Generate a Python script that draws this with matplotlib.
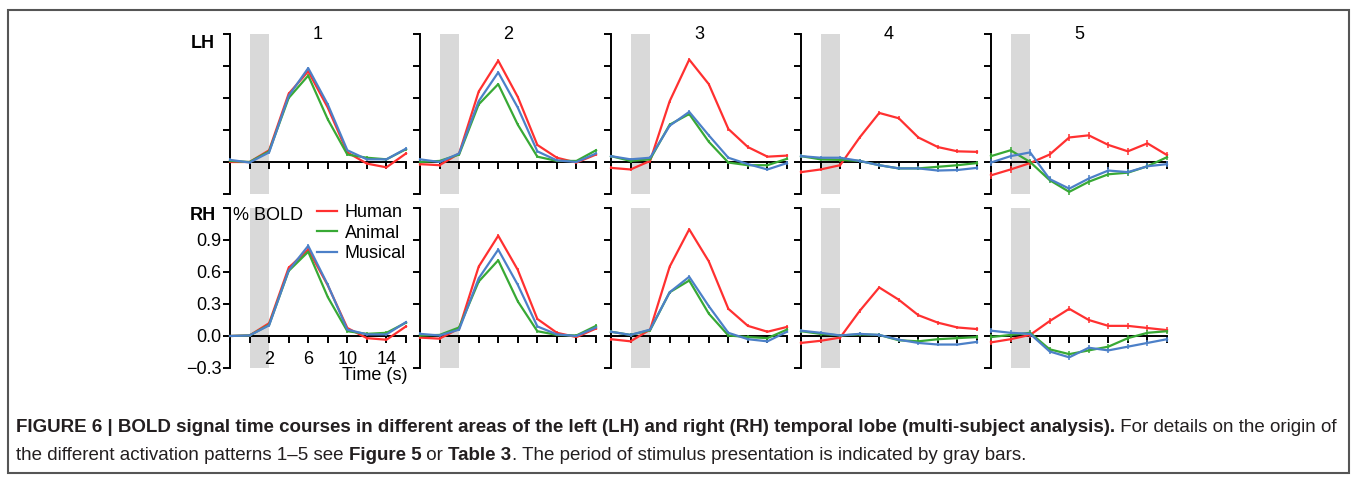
import matplotlib
matplotlib.use('Agg')
import matplotlib.pyplot as plt
from matplotlib import font_manager
from matplotlib.lines import Line2D
from matplotlib.patches import Rectangle

# ---------------- data ----------------
time = [-2, 0, 2, 4, 6, 8, 10, 12, 14, 16]
patterns = ['1', '2', '3', '4', '5']
hemis = ['LH', 'RH']
series_names = ['Human', 'Animal', 'Musical']
stim_on, stim_off = 0, 2

lh_human = [
    [0.00, 0.00, 0.11, 0.64, 0.85, 0.51, 0.09, -0.015, -0.05, 0.08],
    [-0.02, -0.03, 0.08, 0.66, 0.95, 0.61, 0.16, 0.04, -0.005, 0.07],
    [-0.055, -0.07, 0.01, 0.57, 0.96, 0.73, 0.31, 0.14, 0.05, 0.06],
    [-0.095, -0.07, -0.03, 0.23, 0.46, 0.41, 0.23, 0.14, 0.10, 0.095],
    [-0.125, -0.07, -0.01, 0.07, 0.23, 0.25, 0.16, 0.10, 0.175, 0.065],
]
lh_animal = [
    [0.01, 0.00, 0.10, 0.60, 0.81, 0.40, 0.07, 0.04, 0.025, 0.12],
    [0.00, 0.01, 0.07, 0.54, 0.73, 0.35, 0.05, 0.01, 0.01, 0.11],
    [0.055, 0.01, 0.025, 0.35, 0.45, 0.19, -0.005, -0.03, -0.03, 0.03],
    [0.055, 0.025, 0.02, 0.01, -0.03, -0.06, -0.06, -0.045, -0.03, -0.01],
    [0.055, 0.11, 0.00, -0.17, -0.28, -0.185, -0.115, -0.10, -0.04, 0.045],
]
lh_musical = [
    [0.02, -0.005, 0.09, 0.62, 0.88, 0.54, 0.11, 0.025, 0.025, 0.125],
    [0.025, 0.00, 0.08, 0.57, 0.84, 0.51, 0.10, 0.015, 0.00, 0.08],
    [0.055, 0.025, 0.04, 0.34, 0.47, 0.25, 0.04, -0.02, -0.07, -0.01],
    [0.055, 0.04, 0.04, 0.01, -0.03, -0.06, -0.06, -0.08, -0.075, -0.055],
    [-0.005, 0.055, 0.09, -0.16, -0.25, -0.155, -0.08, -0.095, -0.04, -0.02],
]
rh_human = [
    [0.00, 0.005, 0.12, 0.64, 0.81, 0.475, 0.075, -0.02, -0.035, 0.09],
    [-0.015, -0.025, 0.07, 0.65, 0.94, 0.62, 0.16, 0.03, -0.01, 0.07],
    [-0.03, -0.05, 0.06, 0.65, 1.00, 0.70, 0.255, 0.095, 0.04, 0.085],
    [-0.065, -0.045, -0.015, 0.235, 0.455, 0.34, 0.195, 0.125, 0.08, 0.065],
    [-0.06, -0.03, 0.01, 0.14, 0.255, 0.15, 0.095, 0.095, 0.075, 0.055],
]
rh_animal = [
    [0.00, 0.005, 0.105, 0.61, 0.79, 0.365, 0.045, 0.02, 0.03, 0.125],
    [0.005, 0.01, 0.08, 0.51, 0.71, 0.325, 0.045, 0.01, 0.005, 0.095],
    [0.04, 0.01, 0.055, 0.41, 0.52, 0.21, 0.005, -0.01, -0.02, 0.06],
    [0.045, 0.02, 0.005, 0.015, 0.01, -0.04, -0.05, -0.03, -0.02, -0.01],
    [-0.01, 0.01, 0.03, -0.125, -0.17, -0.135, -0.10, -0.02, 0.03, 0.045],
]
rh_musical = [
    [0.00, 0.005, 0.10, 0.615, 0.845, 0.48, 0.06, 0.015, 0.015, 0.13],
    [0.02, 0.005, 0.06, 0.54, 0.81, 0.48, 0.09, 0.015, 0.00, 0.08],
    [0.04, 0.01, 0.06, 0.41, 0.555, 0.28, 0.03, -0.03, -0.05, 0.04],
    [0.05, 0.03, 0.005, 0.02, 0.01, -0.035, -0.065, -0.08, -0.08, -0.055],
    [0.05, 0.03, 0.02, -0.145, -0.20, -0.11, -0.135, -0.10, -0.065, -0.03],
]
lh_err = [0.013, 0.013, 0.015, 0.018, 0.03]
rh_err = [0.013, 0.013, 0.015, 0.018, 0.025]

yticks = [-0.3, 0.0, 0.3, 0.6, 0.9, 1.2]
ytick_labels = ['\u22120.3', '0.0', '0.3', '0.6', '0.9', '']
xticks = [-2, 0, 2, 4, 6, 8, 10, 12, 14, 16]
xtick_labels = ['', '', '2', '', '6', '', '10', '', '14', '']

colors = ['#ff3030', '#38a935', '#4c80c8']

# ---------------- layout ----------------
W, H, DPI = 1355, 479, 100
FONT = 'Liberation Sans'
FS = 13
plt.rcParams['font.family'] = [FONT, 'DejaVu Sans']

fig = plt.figure(figsize=(W / DPI, H / DPI), dpi=DPI)
fig.patch.set_facecolor('white')


def px_axes(left, top, width, height):
    return fig.add_axes([left / W, 1 - (top + height) / H, width / W, height / H])


lefts = [230, 420, 611, 801, 991]
tops = [34, 208]
pw, ph = 176, 160

data = {
    'LH': (lh_human, lh_animal, lh_musical, lh_err),
    'RH': (rh_human, rh_animal, rh_musical, rh_err),
}

for r, hemi in enumerate(hemis):
    hum, ani, mus, err = data[hemi]
    for c, pat in enumerate(patterns):
        ax = px_axes(lefts[c], tops[r], pw, ph)
        ax.set_xlim(-2, 16)
        ax.set_ylim(-0.3, 1.2)
        ax.axvspan(stim_on, stim_off, color='#d9d9d9', lw=0, zorder=0)
        for vals, col in zip([hum[c], ani[c], mus[c]], colors):
            ax.errorbar(time, vals, yerr=err[c], color=col, lw=1.6,
                        elinewidth=1.1, capsize=0, clip_on=False, zorder=3)
        for s in ['top', 'right']:
            ax.spines[s].set_visible(False)
        ax.spines['bottom'].set_position(('data', 0))
        ax.spines['left'].set_linewidth(1.4)
        ax.spines['bottom'].set_linewidth(1.4)
        ax.spines['bottom'].set_zorder(2)
        ax.set_yticks(yticks)
        ax.set_xticks(xticks)
        ax.tick_params(direction='out', length=5, width=1.4, labelsize=FS,
                       colors='black')
        ax.tick_params(axis='x', pad=6)
        ax.tick_params(axis='y', pad=1)
        ax.set_facecolor('none')
        if r == 1 and c == 0:
            ax.set_yticklabels(ytick_labels)
            ax.set_xticklabels(xtick_labels)
        else:
            ax.set_yticklabels([])
            ax.set_xticklabels([])
        if r == 0:
            ax.text(0.5, 0.995, pat, transform=ax.transAxes, ha='center',
                    va='center', fontsize=FS)

# row labels
fig.text(203 / W, 1 - 43 / H, hemis[0], fontsize=FS, fontweight='bold',
         ha='center', va='center')
fig.text(203 / W, 1 - 215 / H, hemis[1], fontsize=FS, fontweight='bold',
         ha='center', va='center')

# axis annotations in bottom-left panel
fig.text(233 / W, 1 - 215 / H, '% BOLD', fontsize=FS, ha='left', va='center')
fig.text(407 / W, 1 - 376 / H, 'Time (s)', fontsize=FS, ha='right', va='center')

handles = [Line2D([0], [0], color=col, lw=1.6) for col in colors]
fig.legend(handles, series_names, loc='upper left',
           bbox_to_anchor=(317 / W, 1 - 204 / H), frameon=False,
           fontsize=FS, handlelength=1.1, handletextpad=0.45,
           labelspacing=0.2, borderpad=0, borderaxespad=0)

# frame around the figure
fig.patches.append(Rectangle((8 / W, 1 - 473 / H), (1349 - 8) / W, (473 - 9.5) / H,
                             transform=fig.transFigure, fill=False,
                             edgecolor='#555555', lw=1.5))

# caption
names = {f.name for f in font_manager.fontManager.ttflist}
capfam = 'Liberation Sans Narrow' if 'Liberation Sans Narrow' in names else FONT

line1 = [("FIGURE 6 | BOLD signal time courses in different areas of the left (LH) and right (RH) temporal lobe (multi-subject analysis).", True),
         (" For details on the origin of", False)]
line2 = [("the different activation patterns 1\u20135 see ", False), ("Figure 5", True),
         (" or ", False), ("Table 3", True),
         (". The period of stimulus presentation is indicated by gray bars.", False)]

renderer = fig.canvas.get_renderer()


def measure(runs, size):
    total = 0
    for txt, bold in runs:
        t = fig.text(0, 0, txt, fontsize=size, family=capfam,
                     fontweight='bold' if bold else 'normal')
        total += t.get_window_extent(renderer).width
        t.remove()
    return total


base = 10.0
w1 = measure(line1, base)
capsize = base * (1338 - 16) / w1


def draw_runs(x, y, runs, size):
    for txt, bold in runs:
        t = fig.text(x / W, 1 - y / H, txt, fontsize=size, family=capfam,
                     fontweight='bold' if bold else 'normal', va='center',
                     ha='left', color='#231f20')
        x += t.get_window_extent(renderer).width


draw_runs(16, 428, line1, capsize)
draw_runs(16, 455, line2, capsize)

fig.savefig('out.png', dpi=DPI, facecolor='white')
